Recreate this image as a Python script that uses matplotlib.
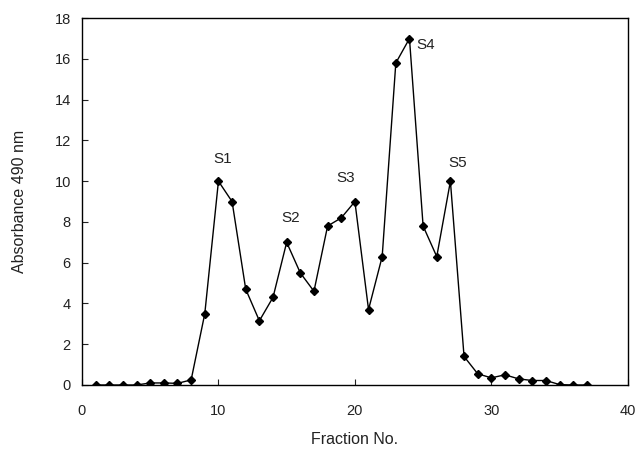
import matplotlib
matplotlib.use("Agg")
from matplotlib import pyplot as plt

# Absorbance at 490 nm per collected fraction
fractions = list(range(1, 38))
absorbance = [0, 0, 0, 0, 0.1, 0.1, 0.08, 0.25, 3.5, 10.0,
              9.0, 4.7, 3.15, 4.3, 7.0, 5.5, 4.6, 7.8, 8.2, 9.0,
              3.7, 6.3, 15.8, 17.0, 7.8, 6.3, 10.0, 1.4, 0.55, 0.35,
              0.5, 0.3, 0.22, 0.22, 0.02, 0, 0]

# Peak labels and where they sit (data coords)
peak_names = ["S1", "S2", "S3", "S4", "S5"]
peak_x = [10.3, 15.3, 19.3, 25.2, 27.5]
peak_y = [11.1, 8.2, 10.15, 16.7, 10.9]

plt.rcParams['font.family'] = ['Liberation Sans', 'DejaVu Sans']

fig = plt.figure(figsize=(6.38, 4.54), dpi=100)
ax = fig.add_axes([0.1285, 0.152, 0.8555, 0.808])

ax.plot(fractions, absorbance, color='black', linewidth=1.0,
        marker='D', markersize=4, markerfacecolor='black')

for name, x, y in zip(peak_names, peak_x, peak_y):
    ax.text(x, y, name, ha='center', va='center', fontsize=11, color='#222222')

ax.set_xlim(0, 40)
ax.set_ylim(0, 18)
ax.set_xticks([0, 10, 20, 30, 40])
ax.set_yticks(range(0, 19, 2))
ax.tick_params(direction='in', length=4, labelsize=10.5, colors='#222222')
ax.tick_params(axis='x', pad=14)
ax.tick_params(axis='y', pad=8)
ax.set_xlabel('Fraction No.', fontsize=11.5, labelpad=10, color='#222222')
ax.set_ylabel('Absorbance 490 nm', fontsize=11.5, labelpad=20, color='#222222')
for spine in ax.spines.values():
    spine.set_linewidth(1.0)

fig.savefig('out.png', dpi=100)
